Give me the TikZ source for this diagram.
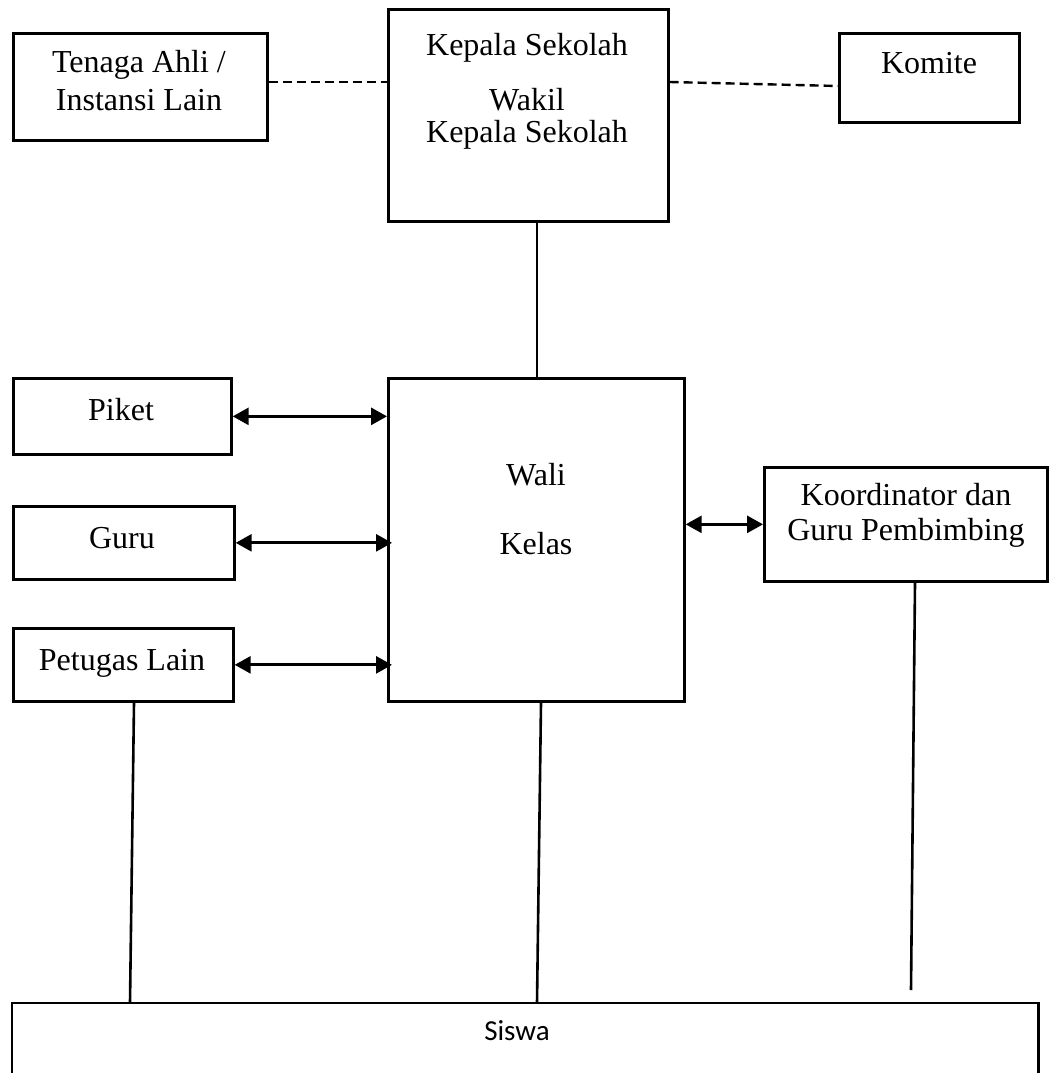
\documentclass[tikz,border=0pt]{standalone}
\usepackage{fontspec}
\setmainfont{Liberation Serif}
\newfontfamily\sisfont{Carlito}
\usetikzlibrary{arrows.meta,calc}
\tikzset{
  box/.style={draw, line width=2.7pt, inner sep=0pt, anchor=north west},
  txt/.style={anchor=base, inner sep=0pt, font=\fontsize{32}{38}\selectfont},
  conn/.style={line width=2.6pt},
  dashconn/.style={line width=2.4pt, dash pattern=on 9pt off 5pt},
  biarrow/.style={line width=2.8pt, {Triangle[length=16pt,width=17pt]}-{Triangle[length=16pt,width=17pt]}}
}
\begin{document}
\begin{tikzpicture}[x=1pt,y=-1pt]
\useasboundingbox (0,0) rectangle (1049,1073);
% boxes
\node[box, minimum width=254pt, minimum height=107pt] (tenaga) at (12,32) {};
\node[box, minimum width=280pt, minimum height=212pt] (kepala) at (387,8) {};
\node[box, minimum width=180pt, minimum height=89pt] (komite) at (838,32) {};
\node[box, minimum width=218pt, minimum height=76pt] (piket) at (12,377) {};
\node[box, minimum width=221pt, minimum height=73pt] (guru) at (12,505) {};
\node[box, minimum width=220pt, minimum height=73pt] (petugas) at (12,627) {};
\node[box, minimum width=296pt, minimum height=323pt] (wali) at (387,377) {};
\node[box, minimum width=283pt, minimum height=114pt] (koord) at (763,466) {};
\node[anchor=north west, inner sep=0pt, minimum width=1026pt, minimum height=100pt] (siswa) at (12,1003) {};
\draw[conn] (siswa.south west) -- (siswa.north west) -- (siswa.north east) -- (siswa.south east);
% texts
\node[txt] (t1) at (139,73) {Tenaga Ahli /};
\node[txt] (t2) at (139,110) {Instansi Lain};
\node[txt] (k1) at (527,56) {Kepala Sekolah};
\node[txt] (k2) at (527,110) {Wakil};
\node[txt] (k3) at (527,142) {Kepala Sekolah};
\node[txt] (km) at (929,74) {Komite};
\node[txt] (pk) at (121,420) {Piket};
\node[txt] (gr) at (122,548) {Guru};
\node[txt] (pl) at (122,670) {Petugas Lain};
\node[txt] (w1) at (536,485) {Wali};
\node[txt] (w2) at (536,554) {Kelas};
\node[txt] (ko1) at (906,505) {Koordinator dan};
\node[txt] (ko2) at (906,540) {Guru Pembimbing};
\node[anchor=base, inner sep=0pt, font=\sisfont\fontsize{29}{34}\selectfont] (sw) at (517,1040) {Siswa};
% dashed links
\draw[dashconn] ($(tenaga.north east)+(0,50)$) -- ($(kepala.north west)+(0,74)$);
\draw[dashconn] ($(kepala.north east)+(0,74)$) -- ($(komite.north west)+(0,54)$);
% solid links
\draw[conn] ($(kepala.south west)+(150,0)$) -- ($(wali.north west)+(150,0)$);
\draw[biarrow] (piket.east) -- (piket.east -| wali.west);
\draw[biarrow] (guru.east) -- ($(guru.east -| wali.west)+(5,0)$);
\draw[biarrow] (petugas.east) -- ($(petugas.east -| wali.west)+(5,0)$);
\draw[biarrow] (koord.west -| wali.east) -- (koord.west);
\draw[conn] ($(petugas.south west)+(122,0)$) -- ($(siswa.north west)+(118,0)$);
\draw[conn] ($(wali.south west)+(154,0)$) -- ($(siswa.north west)+(525,0)$);
\coordinate (kend) at (911,990);
\draw[conn] ($(koord.south west)+(152,0)$) -- (kend);
\end{tikzpicture}
\end{document}
